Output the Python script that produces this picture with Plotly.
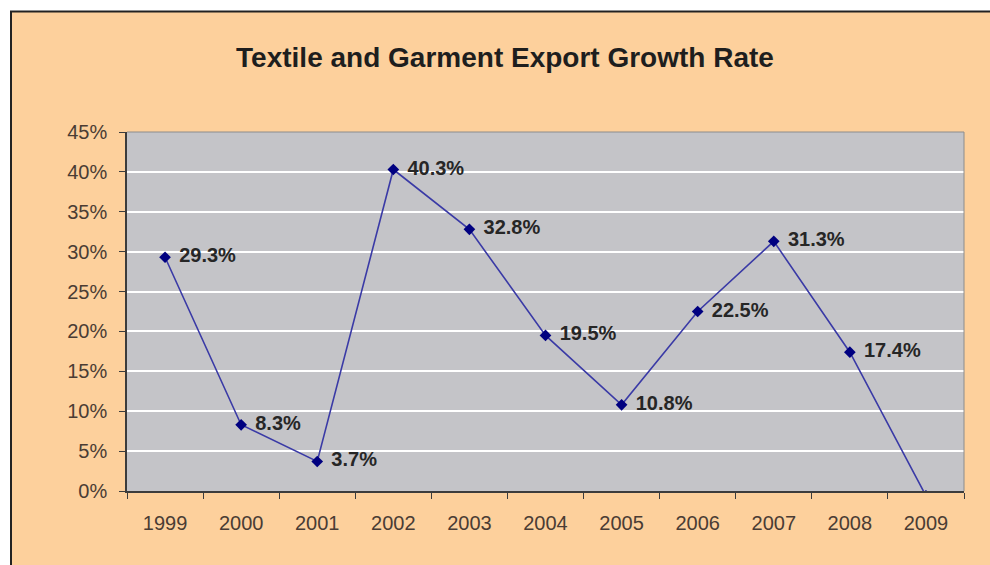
import plotly.graph_objects as go

# Textile and garment export growth, percent per year
years = ["1999", "2000", "2001", "2002", "2003", "2004", "2005", "2006", "2007", "2008", "2009"]
growth = [29.3, 8.3, 3.7, 40.3, 32.8, 19.5, 10.8, 22.5, 31.3, 17.4, -0.6]

y_min, y_max, y_step = 0, 45, 5

ORANGE = "#FDD09C"
PLOT_GRAY = "#C4C4C8"
AXIS_COLOR = "#3C3C3C"
TICK_TEXT = "#4A3C34"
FONT = "Liberation Sans, Arial, sans-serif"

# figure geometry (pixels)
W, H = 990, 565
L, R, T, B = 127, 26, 132, 74
pw, ph = W - L - R, H - T - B


def px_x(px):
    return (px - L) / pw


def px_y(py):
    return (H - B - py) / ph


labels = [f"<b>{v:.1f}%</b>" if v >= y_min else "" for v in growth]

fig = go.Figure()

fig.add_trace(go.Scatter(
    x=years,
    y=growth,
    mode="lines+markers",
    line=dict(color="#3A3AA6", width=1.6),
    marker=dict(symbol="diamond", size=9, color="#000080"),
    cliponaxis=True,
    hoverinfo="skip",
    showlegend=False,
))

# value labels, pushed right of each point by a wide transparent marker
fig.add_trace(go.Scatter(
    x=years,
    y=growth,
    mode="markers+text",
    marker=dict(size=21, color="rgba(0,0,0,0)"),
    text=labels,
    textposition="middle right",
    textfont=dict(family=FONT, size=20, color="#262626"),
    cliponaxis=True,
    hoverinfo="skip",
    showlegend=False,
))

# frame: white strip above and to the left, dark rule lines
shapes = [
    dict(type="rect", xref="paper", yref="paper",
         x0=px_x(0), x1=px_x(W), y0=px_y(11), y1=px_y(-2),
         fillcolor="white", line=dict(width=0)),
    dict(type="rect", xref="paper", yref="paper",
         x0=px_x(-2), x1=px_x(10), y0=px_y(H + 2), y1=px_y(0),
         fillcolor="white", line=dict(width=0)),
    dict(type="line", xref="paper", yref="paper",
         x0=px_x(10), x1=px_x(W), y0=px_y(11.5), y1=px_y(11.5),
         line=dict(color="#222222", width=2)),
    dict(type="line", xref="paper", yref="paper",
         x0=px_x(11), x1=px_x(11), y0=px_y(11), y1=px_y(H + 2),
         line=dict(color="#222222", width=2)),
    # light border on top and right of the plot area
    dict(type="line", xref="paper", yref="paper",
         x0=0, x1=1, y0=1, y1=1, line=dict(color="#8C8C8C", width=1)),
    dict(type="line", xref="paper", yref="paper",
         x0=1, x1=1, y0=0, y1=1, line=dict(color="#8C8C8C", width=1)),
]

fig.update_layout(
    width=W, height=H,
    margin=dict(l=L, r=R, t=T, b=B),
    paper_bgcolor=ORANGE,
    plot_bgcolor=PLOT_GRAY,
    font=dict(family=FONT, color=TICK_TEXT),
    title=dict(
        text="<b>Textile and Garment Export Growth Rate</b>",
        x=505 / W, xanchor="center", xref="container",
        y=1 - 57 / H, yanchor="middle", yref="container",
        font=dict(family=FONT, size=28, color="#1E1E1E"),
    ),
    shapes=shapes,
    showlegend=False,
)

fig.update_xaxes(
    type="category",
    categoryorder="array", categoryarray=years,
    range=[-0.5, len(years) - 0.5],
    showgrid=False,
    showline=True, linecolor=AXIS_COLOR, linewidth=1.5,
    ticks="outside", tickson="boundaries", ticklen=6, tickwidth=1.2,
    tickcolor=AXIS_COLOR,
    tickfont=dict(family=FONT, size=20, color=TICK_TEXT),
    ticklabelstandoff=13,
)

fig.update_yaxes(
    range=[y_min, y_max],
    dtick=y_step, tick0=0,
    ticksuffix="%",
    showgrid=True, gridcolor="white", gridwidth=2,
    zeroline=False,
    showline=True, linecolor=AXIS_COLOR, linewidth=1.5,
    ticks="outside", ticklen=6, tickwidth=1.2, tickcolor=AXIS_COLOR,
    tickfont=dict(family=FONT, size=20, color=TICK_TEXT),
    ticklabelstandoff=8,
)

fig.write_html("out.html")
